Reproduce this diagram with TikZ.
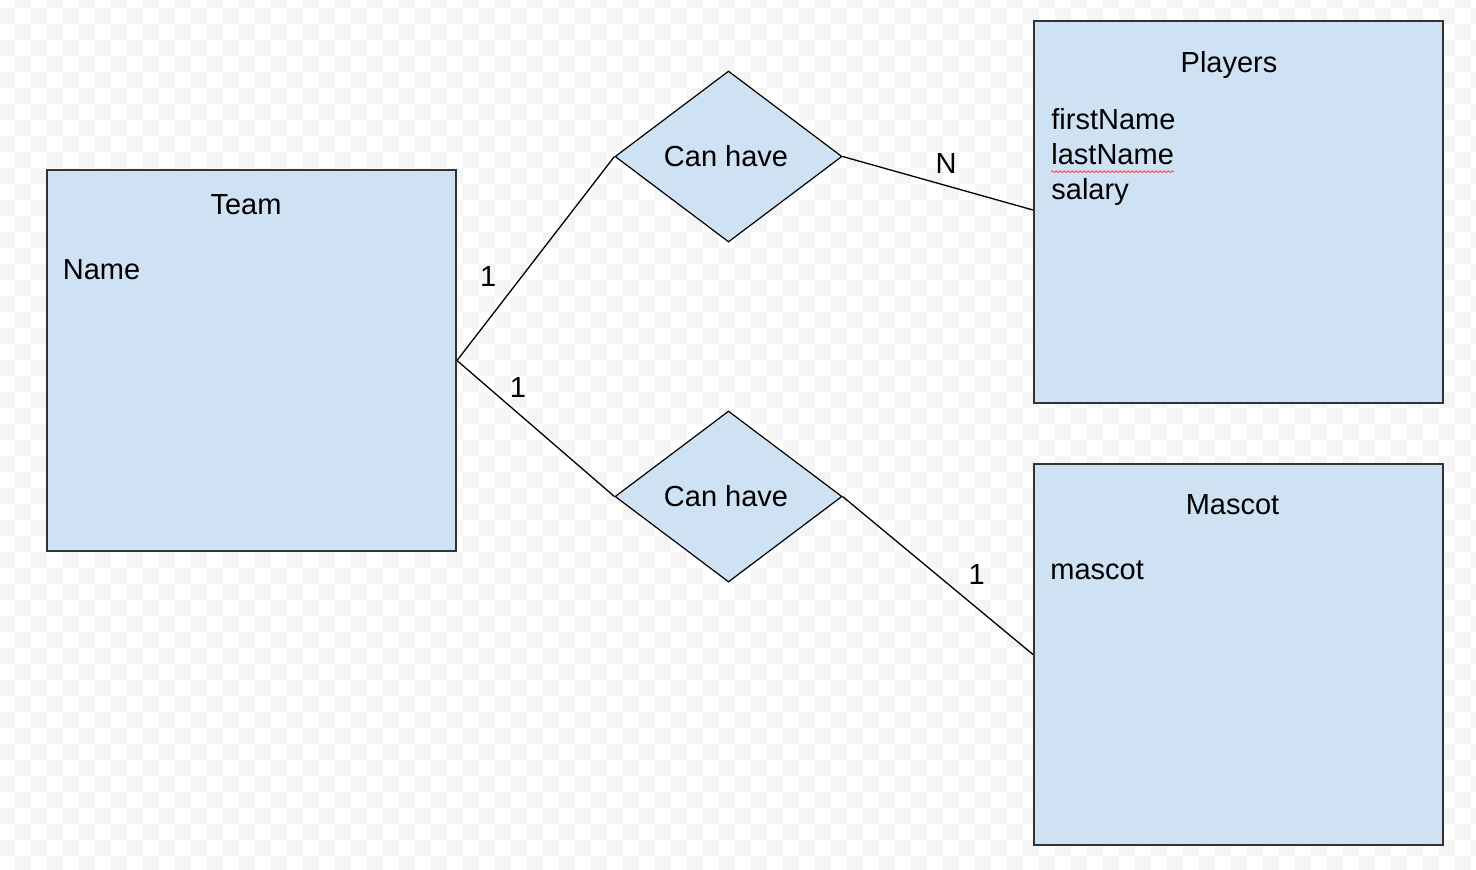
\documentclass[tikz,border=0pt]{standalone}
\usepackage{fontspec}
\setmainfont{Liberation Sans}
\usetikzlibrary{shapes.geometric,decorations.pathmorphing}
\definecolor{bggrey}{HTML}{F5F5F5}
\definecolor{boxfill}{HTML}{CFE2F3}
\definecolor{boxline}{HTML}{333333}
\definecolor{squiggle}{HTML}{EE4444}
\tikzset{
  entity/.style={draw=boxline, fill=boxfill, line width=1pt, rectangle, inner sep=0pt,
                 minimum width=204.5pt},
  relation/.style={draw=black, fill=boxfill, line width=0.6pt, diamond, inner sep=0pt,
                   aspect=1.33, minimum width=113.5pt, minimum height=85.5pt},
  txt/.style={inner sep=0pt, font=\fontsize{14.5}{17.5}\selectfont},
  link/.style={draw=black, line width=0.65pt},
}
\begin{document}
\begin{tikzpicture}[x=0.5pt, y=-0.5pt]
\useasboundingbox (0,0) rectangle (1476,869);
\fill[white] (0,0) rectangle (1476,869);
\begin{scope}
  \clip (0,0) rectangle (1476,869);
  \foreach \j in {0,...,55} {
    \foreach \i in {0,...,46} {
      \pgfmathsetmacro\xx{-1+16*(2*\i+mod(\j+1,2))}
      \fill[bggrey] (\xx,-7.7+16*\j) rectangle ++(16,16);
    }
  }
\end{scope}

% entities
\node[entity, minimum height=190.5pt] (team) at (251.5,360.5) {};
\node[entity, minimum height=191pt] (players) at (1238.5,212) {};
\node[entity, minimum height=190.5pt] (mascot) at (1238.5,654.5) {};

% relationships
\node[relation] (rel1) at (728.5,156.5) {};
\node[relation] (rel2) at (728.5,496.5) {};
\node[txt, anchor=base] (rel1T) at (726,166.5) {Can have};
\node[txt, anchor=base] (rel2T) at (726,506.5) {Can have};

% connectors
\coordinate (playIn) at ([yshift=1pt]players.west);
\draw[link] (team.east) -- (rel1.west);
\draw[link] (team.east) -- (rel2.west);
\draw[link] (rel1.east) -- (playIn);
\draw[link] (rel2.east) -- (mascot.west);

% cardinalities
\node[txt, anchor=base] (c1) at (488.3,286.7) {1};
\node[txt, anchor=base] (c2) at (518,397) {1};
\node[txt, anchor=base] (cN) at (946,173) {N};
\node[txt, anchor=base] (c3) at (976.7,584.3) {1};

% entity texts
\node[txt, anchor=base] (teamT) at (246,214) {Team};
\node[txt, anchor=base west] (teamA) at (62.5,279.5) {Name};

\node[txt, anchor=base] (playT) at (1229,72.8) {Players};
\node[txt, anchor=base west] (playA) at (1051,129) {firstName};
\node[txt, anchor=base west] (playB) at (1051,164) {lastName};
\node[txt, anchor=base west] (playC) at (1051,199) {salary};
\coordinate (sqA) at (1051,171.7);
\coordinate (sqB) at (1174,171.7);
\draw[squiggle, line width=0.4pt, decorate,
      decoration={snake, amplitude=0.45pt, segment length=2pt}] (sqA) -- (sqB);

\node[txt, anchor=base] (mascT) at (1232.5,514.5) {Mascot};
\node[txt, anchor=base west] (mascA) at (1050,579.5) {mascot};
\end{tikzpicture}
\end{document}
